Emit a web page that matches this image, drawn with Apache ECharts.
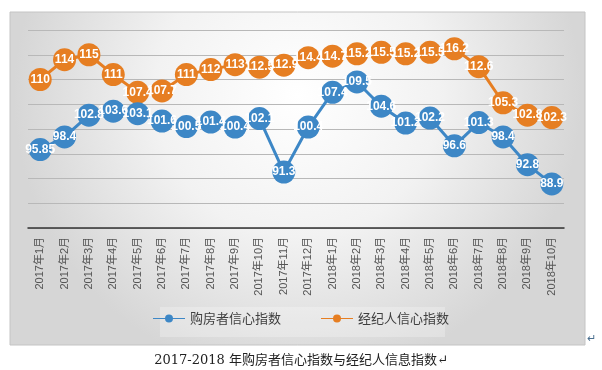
<!DOCTYPE html>
<html><head><meta charset="utf-8">
<script src="https://cdn.jsdelivr.net/npm/echarts@6/dist/echarts.min.js"></script>
<style>html,body{margin:0;padding:0;background:#fff;}#c{width:602px;height:370px;}</style>
</head><body><div id="c"></div>
<script>
const categories = ['2017年1月','2017年2月','2017年3月','2017年4月','2017年5月','2017年6月','2017年7月','2017年8月','2017年9月','2017年10月','2017年11月','2017年12月','2018年1月','2018年2月','2018年3月','2018年4月','2018年5月','2018年6月','2018年7月','2018年8月','2018年9月','2018年10月'];
const buyerIndex = [95.85, 98.4, 102.8, 103.6, 103.1, 101.6, 100.5, 101.4, 100.4, 102.1, 91.3, 100.4, 107.4, 109.5, 104.6, 101.2, 102.2, 96.6, 101.3, 98.4, 92.8, 88.9];
const agentIndex = [110, 114, 115, 111, 107.4, 107.7, 111, 112, 113.0, 112.5, 112.9, 114.4, 114.7, 115.2, 115.5, 115.2, 115.5, 116.2, 112.6, 105.3, 102.8, 102.3];
const seriesNames = ['购房者信心指数', '经纪人信心指数'];
const caption = '2017-2018 年购房者信心指数与经纪人信息指数';

const chart = echarts.init(document.getElementById('c'));
const lbl = {show: true, position: 'inside', color: '#fff', fontSize: 12, fontWeight: 'bold', fontFamily: 'Liberation Sans, Arial, sans-serif'};
chart.setOption({
  animation: false,
  graphic: [
    {type: 'rect', z: -10, shape: {x: 10, y: 12, width: 575, height: 333},
     style: {fill: new echarts.graphic.RadialGradient(0.5, 0.25, 0.85, [
       {offset: 0, color: '#ffffff'}, {offset: 0.5, color: '#f2f2f2'}, {offset: 1, color: '#d6d6d6'}]),
       stroke: '#c4c4c4', lineWidth: 1}},
    {type: 'rect', z: -9, shape: {x: 160, y: 307, width: 285, height: 30},
     style: {fill: 'rgba(255,255,255,0.25)'}},
    {type: 'text', left: 'center', top: 354, style: {text: caption + '↵', font: '13px "DejaVu Serif", "Noto Sans CJK SC", serif', fill: '#222'}},
    {type: 'text', left: 587, top: 333, style: {text: '↵', font: '11px sans-serif', fill: '#4a6f8f'}}
  ],
  grid: {left: 28, right: 38, top: 30, bottom: 142},
  legend: {
    data: seriesNames, bottom: 40, left: 'center', itemGap: 40, itemWidth: 32, itemHeight: 8,
    textStyle: {color: '#404040', fontSize: 13, fontFamily: 'Noto Sans CJK SC, sans-serif'},
    icon: 'path://M0,3.4 L32,3.4 L32,4.6 L0,4.6 Z M20,4 A4,4 0 1 1 12,4 A4,4 0 1 1 20,4 Z'
  },
  xAxis: {
    type: 'category', data: categories, boundaryGap: true,
    axisLine: {lineStyle: {color: '#333', width: 1.5}},
    axisTick: {show: false},
    axisLabel: {rotate: 90, interval: 0, color: '#555', fontSize: 11, margin: 9, fontFamily: 'Liberation Sans, Noto Sans CJK SC, sans-serif'}
  },
  yAxis: {
    type: 'value', min: 80, max: 120, interval: 5,
    axisLabel: {show: false}, axisLine: {show: false}, axisTick: {show: false},
    splitLine: {lineStyle: {color: '#b8b8b8', width: 1}}
  },
  series: [
    {name: seriesNames[0], type: 'line', data: buyerIndex, symbol: 'circle', symbolSize: 23,
     color: '#3d87c6', lineStyle: {width: 3, color: '#3d87c6'}, itemStyle: {color: '#3d87c6'}, label: lbl, z: 3},
    {name: seriesNames[1], type: 'line', data: agentIndex, symbol: 'circle', symbolSize: 23,
     color: '#e67e22', lineStyle: {width: 3, color: '#e67e22'}, itemStyle: {color: '#e67e22'}, label: lbl, z: 2}
  ]
});
</script></body></html>
